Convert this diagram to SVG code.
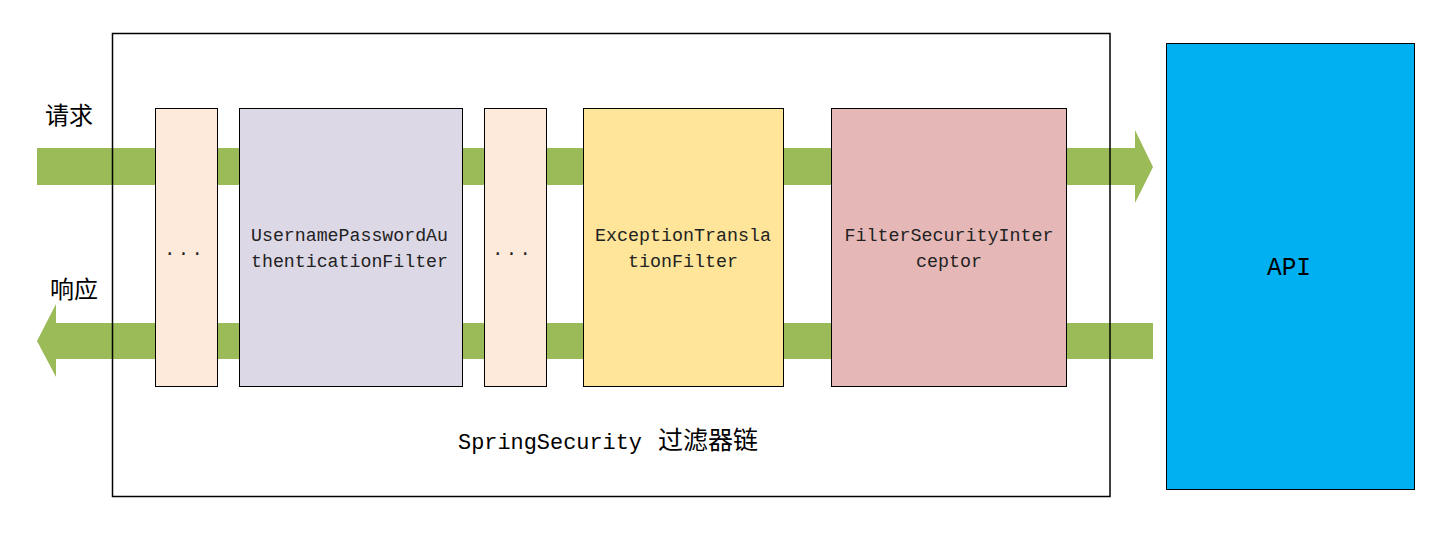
<svg xmlns="http://www.w3.org/2000/svg" width="1455" height="534" viewBox="0 0 1455 534">
<style>
.band{fill:#9BBB59;}
.node{stroke:#000;stroke-width:1;}
.mono{font-family:"Liberation Mono","Noto Sans CJK SC",monospace;font-size:19px;fill:#222;}
.cjk{font-family:"Noto Sans CJK SC",sans-serif;fill:#000;}
</style>
<rect width="1455" height="534" fill="#fff"/>
<g id="connectors">
<path class="band" d="M37,148 H1135 V130 L1153,167 L1135,203 V185 H37 Z"/>
<path class="band" d="M37,341 L56,304 V323 H1153 V359 H56 V377 Z"/>
</g>
<g id="chain">
<rect x="112.5" y="33.5" width="997.5" height="463" fill="none" stroke="#000" stroke-width="1.5"/>
<text x="458" y="449" class="mono" textLength="184" lengthAdjust="spacingAndGlyphs" style="font-size:22px;fill:#000">SpringSecurity</text>
<text x="658" y="449" class="cjk" font-size="25">过滤器链</text>
</g>
<g id="label-request"><text x="45" y="124" class="cjk" font-size="24">请求</text></g>
<g id="label-response"><text x="50" y="298" class="cjk" font-size="24">响应</text></g>
<g id="filter-dots-1">
<rect class="node" x="155.5" y="108.5" width="62" height="278" fill="#FDEADA"/>
<text x="164" y="255" class="mono" textLength="39" lengthAdjust="spacing">...</text>
</g>
<g id="filter-upaf">
<rect class="node" x="239.5" y="108.5" width="223" height="278" fill="#DDD8E6"/>
<text x="251" y="241" class="mono" textLength="197" lengthAdjust="spacingAndGlyphs">UsernamePasswordAu</text>
<text x="251" y="267" class="mono" textLength="197" lengthAdjust="spacingAndGlyphs">thenticationFilter</text>
</g>
<g id="filter-dots-2">
<rect class="node" x="484.5" y="108.5" width="62" height="278" fill="#FDEADA"/>
<text x="492" y="255" class="mono" textLength="39" lengthAdjust="spacing">...</text>
</g>
<g id="filter-etf">
<rect class="node" x="583.5" y="108.5" width="200" height="278" fill="#FEE599"/>
<text x="683" y="241" class="mono" text-anchor="middle" textLength="176" lengthAdjust="spacingAndGlyphs">ExceptionTransla</text>
<text x="683" y="267" class="mono" text-anchor="middle" textLength="110" lengthAdjust="spacingAndGlyphs">tionFilter</text>
</g>
<g id="filter-fsi">
<rect class="node" x="831.5" y="108.5" width="235" height="278" fill="#E5B8B7"/>
<text x="949" y="241" class="mono" text-anchor="middle" textLength="209" lengthAdjust="spacingAndGlyphs">FilterSecurityInter</text>
<text x="949" y="267" class="mono" text-anchor="middle" textLength="66" lengthAdjust="spacingAndGlyphs">ceptor</text>
</g>
<g id="api">
<rect class="node" x="1166.5" y="43.5" width="248" height="446" fill="#00B0F0"/>
<text x="1289" y="275" class="mono" text-anchor="middle" style="font-size:25px;fill:#000" textLength="44" lengthAdjust="spacingAndGlyphs">API</text>
</g>
</svg>
